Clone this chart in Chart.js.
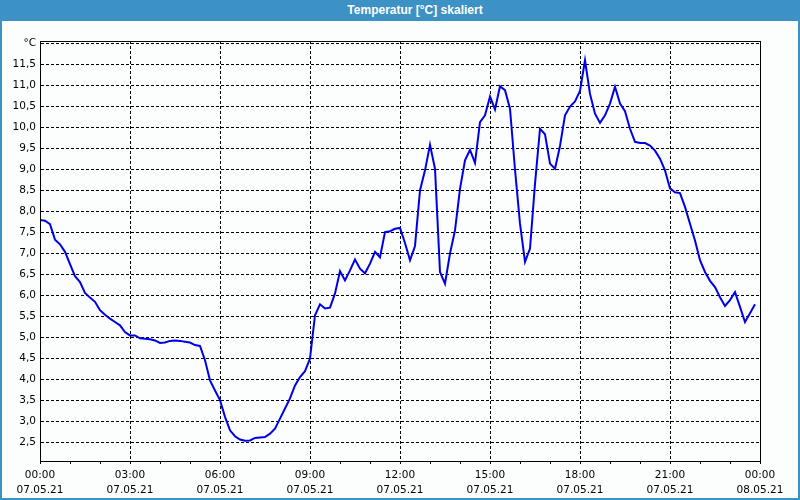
<!DOCTYPE html>
<html>
<head>
<meta charset="utf-8">
<script src="https://cdn.jsdelivr.net/npm/chart.js@4.4.0/dist/chart.umd.min.js"></script>
<style>
  body { margin: 0; background: #fcfefd; }
  #wrap { width: 800px; height: 500px; box-sizing: border-box; border: 2px solid #3c91c5; border-top: none; background: #fcfefd; }
  #head { height: 21px; margin: 0 -2px; background: #3c91c5; color: #fff; font: bold 12px "Liberation Sans", sans-serif; line-height: 21px; text-align: center; padding-left: 30px; }
  #box { position: relative; width: 796px; height: 477px; }
</style>
</head>
<body>
<div id="wrap">
  <div id="head">Temperatur [°C] skaliert</div>
  <div id="box"><canvas id="tempChart"></canvas></div>
</div>
<script>
        // DATA
        let sampleMinutes = 10;
        let temps = [
            7.80, 7.78, 7.70, 7.33, 7.22, 7.04, 6.75, 6.46, 6.32, 6.06, 5.95, 5.85,
            5.65, 5.54, 5.45, 5.37, 5.29, 5.13, 5.05, 5.05, 4.98, 4.97, 4.96, 4.93,
            4.87, 4.88, 4.92, 4.93, 4.92, 4.90, 4.88, 4.82, 4.80, 4.46, 3.98, 3.74,
            3.51, 3.11, 2.79, 2.65, 2.57, 2.54, 2.55, 2.61, 2.62, 2.63, 2.71, 2.83,
            3.07, 3.31, 3.55, 3.86, 4.06, 4.20, 4.50, 5.53, 5.79, 5.69, 5.71, 6.05,
            6.58, 6.36, 6.60, 6.86, 6.64, 6.53, 6.76, 7.04, 6.91, 7.51, 7.53, 7.59,
            7.61, 7.25, 6.84, 7.18, 8.50, 8.98, 9.59, 9.02, 6.56, 6.28, 7.00, 7.55,
            8.54, 9.22, 9.47, 9.16, 10.13, 10.29, 10.74, 10.43, 10.98, 10.89, 10.45, 9.00,
            7.71, 6.80, 7.12, 8.66, 9.97, 9.84, 9.14, 9.02, 9.56, 10.29, 10.50, 10.62,
            10.87, 11.60, 10.80, 10.33, 10.11, 10.29, 10.57, 10.97, 10.57, 10.39, 9.97, 9.66,
            9.63, 9.63, 9.57, 9.45, 9.26, 8.98, 8.55, 8.46, 8.44, 8.11, 7.71, 7.31,
            6.84, 6.56, 6.35, 6.20, 5.96, 5.75, 5.89, 6.08, 5.73, 5.37, 5.58, 5.79
        ];
        let xTickHours = [0, 3, 6, 9, 12, 15, 18, 21, 24];
        let xTickTimes = ['00:00', '03:00', '06:00', '09:00', '12:00', '15:00', '18:00', '21:00', '00:00'];
        let xTickDates = ['07.05.21', '07.05.21', '07.05.21', '07.05.21', '07.05.21', '07.05.21', '07.05.21', '07.05.21', '08.05.21'];
        let yTickValues = [2.5, 3, 3.5, 4, 4.5, 5, 5.5, 6, 6.5, 7, 7.5, 8, 8.5, 9, 9.5, 10, 10.5, 11, 11.5, 12];
        let yTickLabels = ['2,5', '3,0', '3,5', '4,0', '4,5', '5,0', '5,5', '6,0', '6,5', '7,0', '7,5', '8,0', '8,5', '9,0', '9,5', '10,0', '10,5', '11,0', '11,5', '°C'];

        let points = temps.map((v, i) => ({ x: i * sampleMinutes / 60, y: v }));

        // frame round the plot area
        let frame = {
            id: 'frame',
            afterDraw(chart) {
                let a = chart.chartArea, c = chart.ctx;
                c.save();
                c.strokeStyle = '#000';
                c.lineWidth = 1;
                c.setLineDash([]);
                c.strokeRect(Math.round(a.left) + 0.5, Math.round(a.top) + 0.5,
                    Math.round(a.right - a.left), Math.round(a.bottom - a.top));
                c.restore();
            }
        };

        Chart.defaults.font.family = '"DejaVu Sans", sans-serif';
        Chart.defaults.font.size = 10.5;
        Chart.defaults.color = '#000';

        let tempCtx = document.getElementById('tempChart').getContext('2d');
        let tempChart = new Chart(tempCtx, {
            type: 'line',
            data: {
                datasets: [{
                    label: 'Temperatur',
                    data: points,
                    borderColor: '#0000e6',
                    borderWidth: 2,
                    pointRadius: 0,
                    tension: 0,
                    fill: false
                }]
            },
            options: {
                responsive: true,
                maintainAspectRatio: false,
                animation: false,
                events: [],
                layout: { padding: { left: 0, right: 38, top: 20, bottom: 0 } },
                plugins: { legend: { display: false }, tooltip: { enabled: false }, title: { display: false } },
                scales: {
                    x: {
                        type: 'linear',
                        min: 0,
                        max: 24,
                        afterFit: (s) => { s.height = 37; },
                        ticks: {
                            stepSize: 1,
                            autoSkip: false,
                            maxRotation: 0,
                            padding: 3,
                            font: { lineHeight: 1.5 },
                            callback: (v) => {
                                let k = xTickHours.indexOf(v);
                                return k >= 0 ? [xTickTimes[k], xTickDates[k]] : '';
                            }
                        },
                        grid: {
                            color: (ctx) => (ctx.tick && ctx.tick.value % 3 === 0 && ctx.tick.value > 0 && ctx.tick.value < 24) ? '#000' : 'rgba(0,0,0,0)',
                            tickColor: '#000',
                            tickLength: 3,
                            tickBorderDash: []
                        },
                        border: { display: true, color: '#000', width: 1, dash: [3, 2] }
                    },
                    y: {
                        min: 2.06,
                        max: 12.06,
                        afterFit: (s) => { s.width = 38; },
                        afterBuildTicks: (s) => { s.ticks = yTickValues.map(v => ({ value: v })); },
                        ticks: {
                            padding: 4,
                            callback: (v) => {
                                let k = yTickValues.indexOf(v);
                                return k >= 0 ? yTickLabels[k] : '';
                            }
                        },
                        grid: {
                            color: '#000',
                            drawTicks: false
                        },
                        border: { display: true, color: '#000', width: 1, dash: [3, 2] }
                    }
                }
            },
            plugins: [frame]
        });
</script>
</body>
</html>
